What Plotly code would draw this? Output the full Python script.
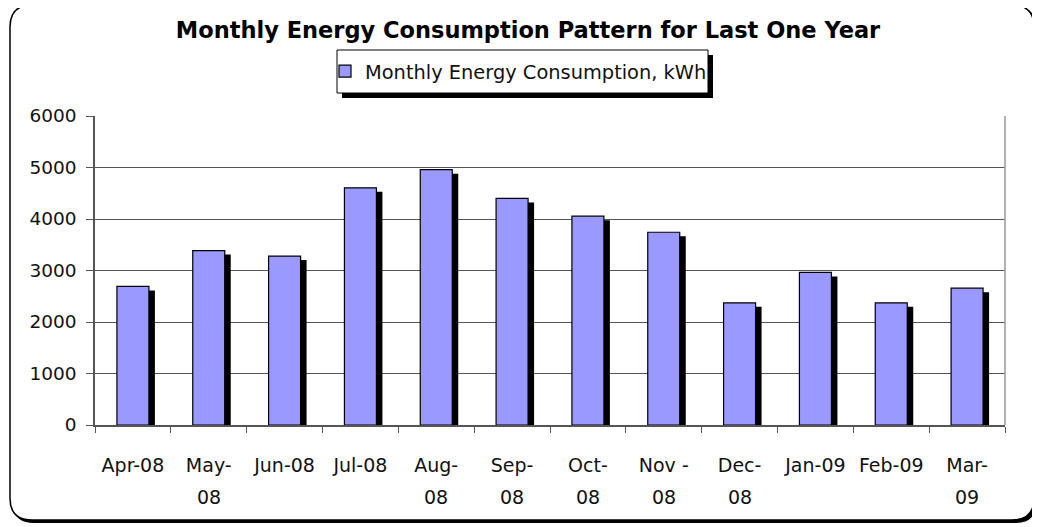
import plotly.graph_objects as go

months = ["Apr-08", "May-08", "Jun-08", "Jul-08", "Aug-08", "Sep-08",
          "Oct-08", "Nov-08", "Dec-08", "Jan-09", "Feb-09", "Mar-09"]
label_line1 = ["Apr-08", "May-", "Jun-08", "Jul-08", "Aug-", "Sep-",
               "Oct-", "Nov -", "Dec-", "Jan-09", "Feb-09", "Mar-"]
label_line2 = ["", "08", "", "", "08", "08", "08", "08", "08", "", "", "09"]
consumption = [2690, 3386, 3281, 4606, 4957, 4400, 4055, 3743, 2372, 2963, 2372, 2657]

series_name = "Monthly Energy Consumption, kWh"
title_text = "Monthly Energy Consumption Pattern for Last One Year"

# the page body adds an 8px margin; design in screen pixels and shift
OFF = 8
W, H = 1040 - OFF, 527 - OFF
PL, PR, PT, PB = 95, 1005, 116, 425          # plot area in screen px
ML, MR, MT, MB = PL - OFF, W - (PR - OFF), PT - OFF, H - (PB - OFF)
PW, PH = PR - PL, PB - PT
YMAX = 6000

def px_x(sx):
    return (sx - PL) / PW

def px_y(sy):
    return (PB - sy) / PH

def rounded_rect(x0, y0, x1, y1, r):
    pts = [
        ("M", px_x(x0 + r), px_y(y0)),
        ("L", px_x(x1 - r), px_y(y0)),
        ("Q", px_x(x1), px_y(y0), px_x(x1), px_y(y0 + r)),
        ("L", px_x(x1), px_y(y1 - r)),
        ("Q", px_x(x1), px_y(y1), px_x(x1 - r), px_y(y1)),
        ("L", px_x(x0 + r), px_y(y1)),
        ("Q", px_x(x0), px_y(y1), px_x(x0), px_y(y1 - r)),
        ("L", px_x(x0), px_y(y0 + r)),
        ("Q", px_x(x0), px_y(y0), px_x(x0 + r), px_y(y0)),
    ]
    s = ""
    for p in pts:
        s += p[0] + " " + " ".join(f"{v:.5f}" for v in p[1:]) + " "
    return s + "Z"

cat_w = PW / len(months)
bar_w = 32 / cat_w
shadow_dx = 6 / cat_w
shadow_dy = 4 * YMAX / PH
shadow_vals = [v - shadow_dy for v in consumption]

fig = go.Figure()
fig.add_trace(go.Bar(
    x=months, y=shadow_vals, width=bar_w, offset=-bar_w / 2 + shadow_dx,
    marker=dict(color="black", line=dict(width=0)),
    showlegend=False, hoverinfo="skip"))
fig.add_trace(go.Bar(
    x=months, y=consumption, width=bar_w, offset=-bar_w / 2,
    name=series_name,
    marker=dict(color="#9999FF", line=dict(color="black", width=1.2))))

shapes = [
    # outer frame shadow + frame
    dict(type="path", xref="paper", yref="paper", layer="below",
         path=rounded_rect(12, 7, 1037, 523, 22), fillcolor="black", line=dict(width=0)),
    dict(type="path", xref="paper", yref="paper", layer="below",
         path=rounded_rect(10, 5, 1034, 520, 22), fillcolor="white",
         line=dict(color="black", width=1.5)),
    # legend box shadow + box
    dict(type="rect", xref="paper", yref="paper", layer="below",
         x0=px_x(342), x1=px_x(713), y0=px_y(98), y1=px_y(55),
         fillcolor="black", line=dict(width=0)),
    dict(type="rect", xref="paper", yref="paper", layer="below",
         x0=px_x(337), x1=px_x(708), y0=px_y(93), y1=px_y(50),
         fillcolor="white", line=dict(color="black", width=1)),
    # right border of plot area
    dict(type="line", xref="paper", yref="paper", x0=1, x1=1, y0=0, y1=1,
         line=dict(color="#999999", width=1.5)),
]

annotations = []
for m, l2 in zip(months, label_line2):
    if l2:
        annotations.append(dict(x=m, xref="x", y=px_y(497), yref="paper",
                                text=l2, showarrow=False, yanchor="middle",
                                font=dict(family="DejaVu Sans", size=19, color="#111111")))

fig.update_layout(
    width=W, height=H,
    margin=dict(l=ML, r=MR, t=MT, b=MB),
    paper_bgcolor="white", plot_bgcolor="rgba(0,0,0,0)",
    barmode="overlay",
    title=dict(text=f"<b>{title_text}</b>", x=px_x(528), xref="paper", xanchor="center",
               y=1 - (30 - OFF) / H, yanchor="middle",
               font=dict(family="DejaVu Sans", size=22.5, color="black")),
    legend=dict(x=px_x(325), y=px_y(52), xanchor="left", yanchor="top",
                bgcolor="rgba(0,0,0,0)", borderwidth=0,
                font=dict(family="DejaVu Sans", size=19.4, color="#111111"),
                itemwidth=30),
    shapes=shapes,
    annotations=annotations,
    xaxis=dict(
        categoryorder="array", categoryarray=months,
        tickmode="array", tickvals=months, ticktext=label_line1,
        showline=True, linecolor="#555555", linewidth=1.5,
        ticks="outside", tickson="boundaries", ticklen=6, tickcolor="#555555",
        ticklabelstandoff=22,
        tickfont=dict(family="DejaVu Sans", size=19, color="#111111"),
        showgrid=False, fixedrange=True),
    yaxis=dict(
        range=[0, YMAX], dtick=1000, tick0=0,
        showline=True, linecolor="#555555", linewidth=1.5,
        ticks="outside", ticklen=7, tickcolor="#555555",
        ticklabelstandoff=6,
        showgrid=True, gridcolor="#555555", gridwidth=1.2,
        zeroline=False,
        tickfont=dict(family="DejaVu Sans", size=18.5, color="#111111"),
        fixedrange=True),
)

fig.write_html("out.html")
